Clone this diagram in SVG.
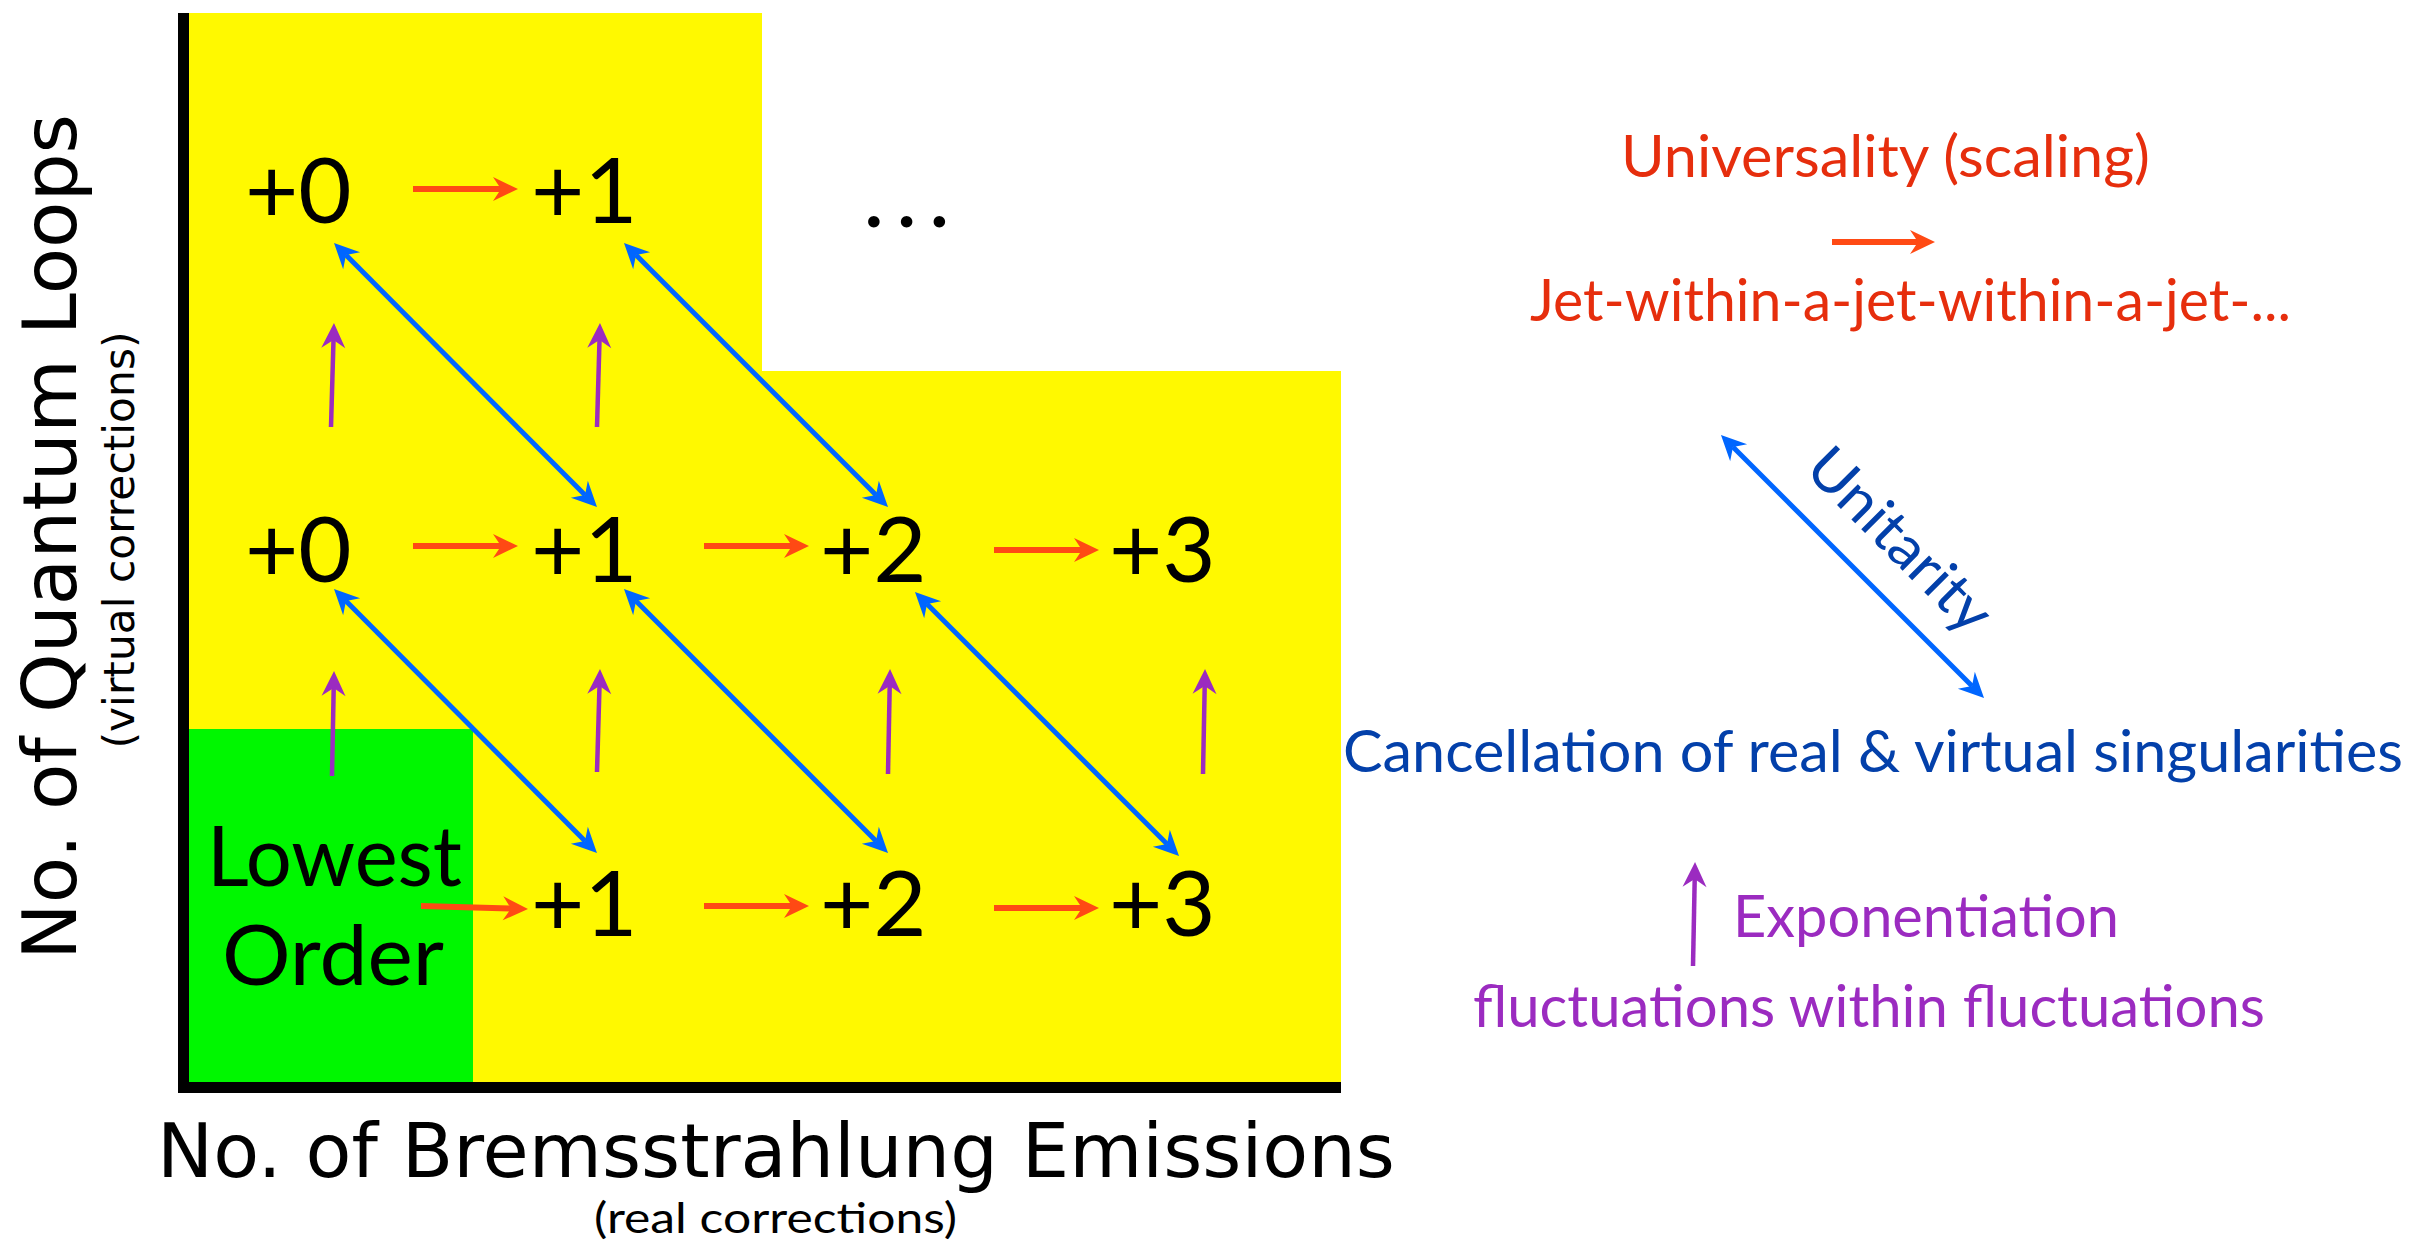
<svg xmlns="http://www.w3.org/2000/svg" width="2432" height="1240" viewBox="0 0 2432 1240">
<style>
.dj{font-family:"DejaVu Sans",sans-serif;fill:#000}
.gs{font-family:Lato,"Liberation Sans",sans-serif}
.num{font-family:Lato,"Liberation Sans",sans-serif;font-size:92px;fill:#000}
.red{fill:#e62e0d;font-size:58px}
.dblue{fill:#0340aa;font-size:58px}
.purp{fill:#9b2bc0;font-size:58px}
.ra{stroke:#ff4a14;stroke-width:6;fill:none;marker-end:url(#hr)}
.pa{stroke:#9b2bc0;stroke-width:4.5;fill:none;marker-end:url(#hp)}
.ba{stroke:#0066ff;stroke-width:5;fill:none;marker-start:url(#hb);marker-end:url(#hb)}
</style>
<defs>
<marker id="hr" markerUnits="userSpaceOnUse" orient="auto" markerWidth="1" markerHeight="1" refX="0" refY="0" style="overflow:visible"><path d="M17,0 L-8,-12 L0,0 L-8,12 Z" fill="#ff4a14"/></marker>
<marker id="hp" markerUnits="userSpaceOnUse" orient="auto" markerWidth="1" markerHeight="1" refX="0" refY="0" style="overflow:visible"><path d="M17,0 L-8,-12 L0,0 L-8,12 Z" fill="#9b2bc0"/></marker>
<marker id="hb" markerUnits="userSpaceOnUse" orient="auto-start-reverse" markerWidth="1" markerHeight="1" refX="0" refY="0" style="overflow:visible"><path d="M17,0 L-8,-12 L0,0 L-8,12 Z" fill="#0066ff"/></marker>
</defs>
<rect width="2432" height="1240" fill="#fff"/>
<g id="background">
<path d="M189,13 H762 V371 H1341 V1082 H189 Z" fill="#fff900"/>
<rect x="189" y="729" width="284" height="353" fill="#00f700"/>
<rect x="178" y="13" width="11" height="1080" fill="#000"/>
<rect x="178" y="1082" width="1163" height="11" fill="#000"/>
</g>
<g id="axis-labels">
<text class="dj" font-size="75" text-anchor="middle" textLength="846" lengthAdjust="spacingAndGlyphs" transform="translate(76,537) rotate(-90)">No. of Quantum Loops</text>
<text class="dj" font-size="42" text-anchor="middle" textLength="417" lengthAdjust="spacingAndGlyphs" transform="translate(134,540) rotate(-90)">(virtual corrections)</text>
<text class="dj" font-size="75" x="157" y="1177" textLength="1238" lengthAdjust="spacingAndGlyphs">No. of Bremsstrahlung Emissions</text>
<text class="gs" font-size="43" x="594" y="1233" textLength="363" lengthAdjust="spacingAndGlyphs" fill="#000">(real corrections)</text>
</g>
<g id="connectors">
<path class="ra" d="M413,189 L501,189"/>
<path class="ra" d="M413,546 L501,546"/>
<path class="ra" d="M704,546 L792,546"/>
<path class="ra" d="M994,550 L1082,550"/>
<path class="ra" d="M421,906 L511,908.5"/>
<path class="ra" d="M704,906 L792,906"/>
<path class="ra" d="M994,908 L1082,908"/>
<path class="pa" d="M331,427 L333.5,340"/>
<path class="pa" d="M332,776 L333.7,688"/>
<path class="pa" d="M597,427 L599.5,340"/>
<path class="pa" d="M597,772 L599.5,686"/>
<path class="pa" d="M888,774 L889.7,686"/>
<path class="pa" d="M1203,774 L1204.7,686"/>
<path class="ba" d="M346,255 L585,495"/>
<path class="ba" d="M636,255 L876,495"/>
<path class="ba" d="M346,601 L585,841"/>
<path class="ba" d="M636,601 L876,841"/>
<path class="ba" d="M927,604 L1167,844"/>
</g>
<g id="n-r1-0"><text class="num" x="245" y="223">+0</text></g>
<g id="n-r1-1"><text class="num" x="531" y="223">+1</text></g>
<g id="n-r1-more"><text class="num" x="863" y="227" letter-spacing="11">...</text></g>
<g id="n-r2-0"><text class="num" x="245" y="582">+0</text></g>
<g id="n-r2-1"><text class="num" x="531" y="582">+1</text></g>
<g id="n-r2-2"><text class="num" x="820" y="582">+2</text></g>
<g id="n-r2-3"><text class="num" x="1109" y="582">+3</text></g>
<g id="n-lowest"><text class="gs" font-size="84" fill="#000" x="207" y="886" textLength="255" lengthAdjust="spacingAndGlyphs">Lowest</text><text class="gs" font-size="84" fill="#000" x="222" y="985" textLength="222" lengthAdjust="spacingAndGlyphs">Order</text></g>
<g id="n-r3-1"><text class="num" x="531" y="936">+1</text></g>
<g id="n-r3-2"><text class="num" x="820" y="936">+2</text></g>
<g id="n-r3-3"><text class="num" x="1109" y="936">+3</text></g>
<g id="legend-universality">
<text class="gs red" x="1621" y="177" textLength="529" lengthAdjust="spacingAndGlyphs">Universality (scaling)</text>
<path class="ra" d="M1832,242 L1918,242"/>
<text class="gs red" x="1530" y="321" textLength="761" lengthAdjust="spacingAndGlyphs">Jet-within-a-jet-within-a-jet-...</text>
</g>
<g id="legend-unitarity">
<path class="ba" d="M1733,447 L1972,686"/>
<text class="gs dblue" text-anchor="middle" textLength="235" lengthAdjust="spacingAndGlyphs" transform="translate(1886,554) rotate(45)">Unitarity</text>
<text class="gs dblue" x="1343" y="772" textLength="1060" lengthAdjust="spacingAndGlyphs">Cancellation of real &amp; virtual singularities</text>
</g>
<g id="legend-exponentiation">
<path class="pa" d="M1693,966 L1694.7,879"/>
<text class="gs purp" x="1733" y="937" textLength="386" lengthAdjust="spacingAndGlyphs">Exponentiation</text>
<text class="gs purp" x="1473" y="1027" textLength="792" lengthAdjust="spacingAndGlyphs">fluctuations within fluctuations</text>
</g>
</svg>
